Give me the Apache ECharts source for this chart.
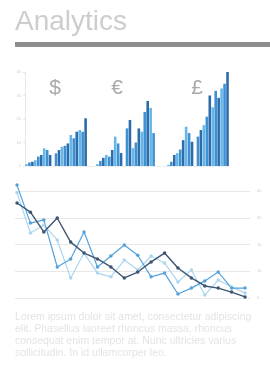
<!DOCTYPE html>
<html><head><meta charset="utf-8">
<script src="https://cdn.jsdelivr.net/npm/echarts@6/dist/echarts.min.js"></script>
<style>html,body{margin:0;padding:0;background:#fff}#c{width:270px;height:367px}</style>
</head><body><div id="c"></div>
<script>
// ---- data ----
const titleText = "Analytics";
const currencies = ["$", "€", "£"];
const dollarBars = [0.8, 1.5, 1.8, 2.5, 4, 4.7, 7.5, 6.8, 4.7, 0, 5.4, 6.8, 8.2, 8.6, 9.6, 13.2, 11.8, 14.6, 15.3, 14.6, 20.3];
const euroBars   = [0.8, 2.2, 3.5, 4.7, 4, 6.8, 12.5, 9.6, 5.5, 0, 16, 19.6, 7.6, 10, 16, 14.6, 23, 27.7, 24.7, 14, 0];
const poundBars  = [0.5, 1.8, 4.7, 5.5, 7, 11, 16.7, 14, 10.3, 0, 12.5, 15.3, 17.4, 21, 30, 25, 32, 29, 33, 35, 40];
const barTicks = [0, 10, 20, 30, 40];
const lineDark   = [35.5, 32.1, 24.7, 29.9, 20.9, 16.8, 14.6, 11.6, 7.5, 9.7, 13.5, 16.8, 11.2, 7.5, 4.5, 3.7, 2.2, 0.4];
const lineMedium = [42.2, 28, 29.2, 11.6, 14.6, 24.7, 11.6, 15.7, 19.8, 16, 7.9, 9.3, 1.5, 3.7, 6.4, 9.7, 3.7, 3.7];
const lineLight  = [39.3, 24.3, 27.3, 21.7, 7.5, 16.8, 9.3, 7.9, 14.2, 10.5, 15.7, 13.1, 6, 10.5, 1.1, 6.7, 4.1, 1.9];
const lineTicks = [0, 10, 20, 30, 40];
const paragraph = ["Lorem ipsum dolor sit amet, consectetur adipiscing",
  "elit. Phasellus laoreet rhoncus massa, rhoncus",
  "consequat enim tempor at. Nunc ultricies varius",
  "sollicitudin. In id ullamcorper leo."];

// ---- build ----
const GAP = 3;
const barColors = ['#66b6e9', '#3e92d3', '#2d6cab'];
const groups = [dollarBars, euroBars, poundBars];
const cats = [], barData = [];
groups.forEach((g, gi) => {
  g.forEach((v, i) => {
    cats.push('g' + gi + '_' + i);
    barData.push({ value: v, itemStyle: { color: barColors[i % 3] } });
  });
  if (gi < groups.length - 1) for (let k = 0; k < GAP; k++) { cats.push('gap' + gi + '_' + k); barData.push(null); }
});
const idx = lineDark.map((_, i) => i);
const pairs = arr => arr.map((v, i) => [idx[i], v]);

const chart = echarts.init(document.getElementById('c'), null, { renderer: 'canvas' });
const FONT = '"Liberation Sans", Arial, sans-serif';
chart.setOption({
  animation: false,
  grid: [
    { left: 25, right: 41, top: 72, bottom: 201 },
    { left: 15, right: 20, top: 191, bottom: 69 }
  ],
  xAxis: [
    { gridIndex: 0, type: 'category', data: cats, axisLine: { lineStyle: { color: '#eeeeee' } }, axisTick: { show: false }, axisLabel: { show: false } },
    { gridIndex: 1, type: 'value', min: -0.15, max: 17.37, show: false }
  ],
  yAxis: [
    { gridIndex: 0, type: 'value', min: barTicks[0], max: barTicks[barTicks.length - 1], interval: 10,
      axisLine: { show: true, lineStyle: { color: '#e6e6e6' } }, axisTick: { show: true, length: 2, lineStyle: { color: '#e6e6e6' } },
      splitLine: { show: false }, axisLabel: { fontSize: 4, color: '#cccccc', margin: 4, fontFamily: FONT } },
    { gridIndex: 1, type: 'value', position: 'right', min: lineTicks[0], max: lineTicks[lineTicks.length - 1], interval: 10,
      axisLine: { show: false }, axisTick: { show: false },
      splitLine: { lineStyle: { color: '#e8e8e8', width: 1 } }, axisLabel: { fontSize: 4, color: '#cccccc', margin: 7, fontFamily: FONT } }
  ],
  series: [
    { type: 'bar', xAxisIndex: 0, yAxisIndex: 0, data: barData, barCategoryGap: '12%' },
    { type: 'line', xAxisIndex: 1, yAxisIndex: 1, data: pairs(lineLight), clip: false, symbol: 'circle', symbolSize: 3.5,
      lineStyle: { color: '#abd6f0', width: 1.2 }, itemStyle: { color: '#abd6f0' } },
    { type: 'line', xAxisIndex: 1, yAxisIndex: 1, data: pairs(lineMedium), clip: false, symbol: 'circle', symbolSize: 3.5,
      lineStyle: { color: '#55a3db', width: 1.2 }, itemStyle: { color: '#55a3db' } },
    { type: 'line', xAxisIndex: 1, yAxisIndex: 1, data: pairs(lineDark), clip: false, symbol: 'circle', symbolSize: 3.5,
      lineStyle: { color: '#3c5570', width: 1.4 }, itemStyle: { color: '#3c5570' } }
  ],
  graphic: [
    { type: 'text', left: 15, top: 8, style: { text: titleText, font: '28px ' + FONT, fill: '#cdcdcd' } },
    { type: 'rect', shape: { x: 15, y: 42, width: 255, height: 5 }, style: { fill: '#8e8e8e' } },
    { type: 'text', x: 55, y: 88, style: { text: currencies[0], font: '21px ' + FONT, fill: '#a9a9a9', align: 'center', verticalAlign: 'middle' } },
    { type: 'text', x: 117, y: 88, style: { text: currencies[1], font: '21px ' + FONT, fill: '#a9a9a9', align: 'center', verticalAlign: 'middle' } },
    { type: 'text', x: 197, y: 88, style: { text: currencies[2], font: '21px ' + FONT, fill: '#a9a9a9', align: 'center', verticalAlign: 'middle' } },
    { type: 'text', left: 15, top: 311, style: { text: paragraph.join('\n'), font: '10.5px ' + FONT, fill: '#e4e4e4', lineHeight: 12 } }
  ]
});
</script></body></html>
